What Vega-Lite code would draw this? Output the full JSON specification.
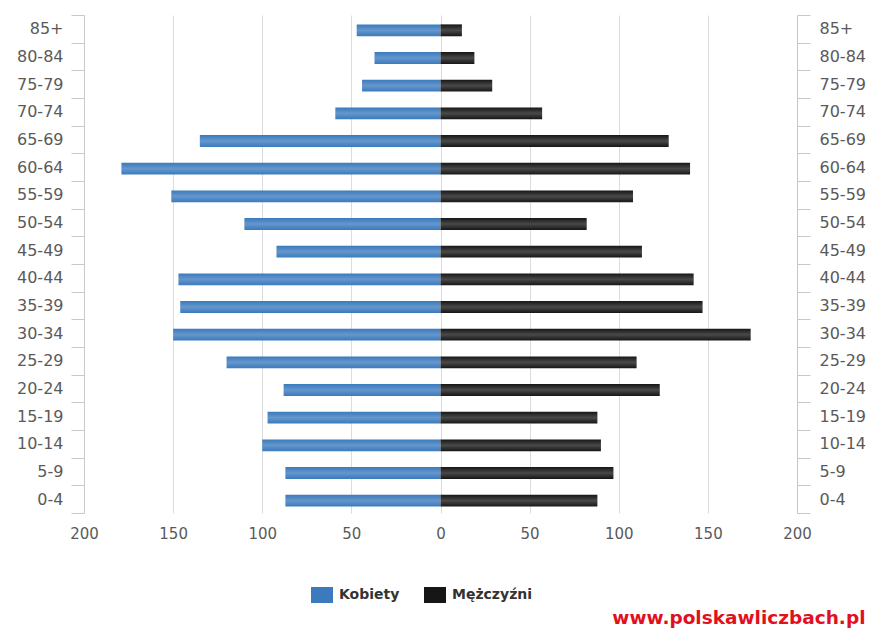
{
  "$schema": "https://vega.github.io/schema/vega-lite/v6.json",
  "width": 713,
  "height": 498,
  "autosize": "none",
  "padding": {"left": 84, "top": 15, "right": 72, "bottom": 117},
  "background": "white",
  "config": {"view": {"stroke": null}, "font": "DejaVu Sans"},
  "title": {
    "text": "www.polskawliczbach.pl",
    "orient": "bottom",
    "anchor": "end",
    "frame": "bounds",
    "color": "#e2101e",
    "font": "DejaVu Sans",
    "fontWeight": "bold",
    "fontSize": 18.5,
    "offset": 6
  },
  "data": {
    "values": [
      {"age": "85+", "sex": "Kobiety", "value": -47},
      {"age": "80-84", "sex": "Kobiety", "value": -37},
      {"age": "75-79", "sex": "Kobiety", "value": -44},
      {"age": "70-74", "sex": "Kobiety", "value": -59},
      {"age": "65-69", "sex": "Kobiety", "value": -135},
      {"age": "60-64", "sex": "Kobiety", "value": -179},
      {"age": "55-59", "sex": "Kobiety", "value": -151},
      {"age": "50-54", "sex": "Kobiety", "value": -110},
      {"age": "45-49", "sex": "Kobiety", "value": -92},
      {"age": "40-44", "sex": "Kobiety", "value": -147},
      {"age": "35-39", "sex": "Kobiety", "value": -146},
      {"age": "30-34", "sex": "Kobiety", "value": -150},
      {"age": "25-29", "sex": "Kobiety", "value": -120},
      {"age": "20-24", "sex": "Kobiety", "value": -88},
      {"age": "15-19", "sex": "Kobiety", "value": -97},
      {"age": "10-14", "sex": "Kobiety", "value": -100},
      {"age": "5-9", "sex": "Kobiety", "value": -87},
      {"age": "0-4", "sex": "Kobiety", "value": -87},
      {"age": "85+", "sex": "Mężczyźni", "value": 12},
      {"age": "80-84", "sex": "Mężczyźni", "value": 19},
      {"age": "75-79", "sex": "Mężczyźni", "value": 29},
      {"age": "70-74", "sex": "Mężczyźni", "value": 57},
      {"age": "65-69", "sex": "Mężczyźni", "value": 128},
      {"age": "60-64", "sex": "Mężczyźni", "value": 140},
      {"age": "55-59", "sex": "Mężczyźni", "value": 108},
      {"age": "50-54", "sex": "Mężczyźni", "value": 82},
      {"age": "45-49", "sex": "Mężczyźni", "value": 113},
      {"age": "40-44", "sex": "Mężczyźni", "value": 142},
      {"age": "35-39", "sex": "Mężczyźni", "value": 147},
      {"age": "30-34", "sex": "Mężczyźni", "value": 174},
      {"age": "25-29", "sex": "Mężczyźni", "value": 110},
      {"age": "20-24", "sex": "Mężczyźni", "value": 123},
      {"age": "15-19", "sex": "Mężczyźni", "value": 88},
      {"age": "10-14", "sex": "Mężczyźni", "value": 90},
      {"age": "5-9", "sex": "Mężczyźni", "value": 97},
      {"age": "0-4", "sex": "Mężczyźni", "value": 88}
    ]
  },
  "resolve": {"axis": {"y": "independent"}},
  "layer": [
    {
      "mark": {"type": "bar", "height": {"band": 0.43}, "yOffset": 1.5},
      "encoding": {
        "y": {
          "field": "age",
          "type": "ordinal",
          "sort": ["85+", "80-84", "75-79", "70-74", "65-69", "60-64", "55-59", "50-54", "45-49", "40-44", "35-39", "30-34", "25-29", "20-24", "15-19", "10-14", "5-9", "0-4"],
          "scale": {"paddingInner": 0, "paddingOuter": 0},
          "axis": {
            "orient": "left",
            "title": null,
            "grid": false,
            "domainColor": "#c8c8c8",
            "tickColor": "#c8c8c8",
            "tickSize": 13,
            "tickBand": "extent",
            "labelFont": "DejaVu Sans",
            "labelFontSize": 16,
            "labelColor": "#5a5a5a",
            "labelPadding": 8
          }
        },
        "x": {
          "field": "value",
          "type": "quantitative",
          "scale": {"domain": [-200, 200], "nice": false},
          "axis": {
            "values": [-200, -150, -100, -50, 0, 50, 100, 150, 200],
            "labelExpr": "abs(datum.value)",
            "labelFlush": false,
            "labelOverlap": false,
            "title": null,
            "domain": false,
            "ticks": false,
            "grid": true,
            "gridColor": "#dcdcdc",
            "labelFont": "DejaVu Sans",
            "labelFontSize": 15,
            "labelColor": "#5a5a5a",
            "labelPadding": 13
          }
        },
        "color": {
          "field": "sex",
          "type": "nominal",
          "scale": {"domain": ["Kobiety", "Mężczyźni"], "range": ["#3a7abd", "#161616"]},
          "legend": {
            "title": null,
            "orient": "none",
            "direction": "horizontal",
            "legendX": 230,
            "legendY": 572,
            "padding": 0,
            "symbolType": "M-1.375,-1H1.375V1H-1.375Z",
            "symbolSize": 256,
            "symbolStrokeWidth": 0,
            "symbolOpacity": 1,
            "labelOffset": 9,
            "columnPadding": 24,
            "labelFont": "DejaVu Sans",
            "labelFontSize": 14,
            "labelFontWeight": "bold",
            "labelColor": "#333333"
          }
        }
      }
    },
    {
      "mark": {
        "type": "bar",
        "height": {"band": 0.43},
        "yOffset": 1.5,
        "fill": {
          "gradient": "linear",
          "x1": 0, "y1": 0, "x2": 0, "y2": 1,
          "stops": [
            {"offset": 0, "color": "rgba(255,255,255,0)"},
            {"offset": 0.5, "color": "rgba(255,255,255,0.22)"},
            {"offset": 1, "color": "rgba(255,255,255,0)"}
          ]
        }
      },
      "encoding": {
        "y": {
          "field": "age",
          "type": "ordinal",
          "sort": ["85+", "80-84", "75-79", "70-74", "65-69", "60-64", "55-59", "50-54", "45-49", "40-44", "35-39", "30-34", "25-29", "20-24", "15-19", "10-14", "5-9", "0-4"],
          "axis": {
            "orient": "right",
            "title": null,
            "grid": false,
            "domainColor": "#c8c8c8",
            "tickColor": "#c8c8c8",
            "tickSize": 13,
            "tickBand": "extent",
            "labelFont": "DejaVu Sans",
            "labelFontSize": 16,
            "labelColor": "#5a5a5a",
            "labelPadding": 9
          }
        },
        "x": {
          "field": "value",
          "type": "quantitative",
          "axis": {
            "values": [-200, -150, -100, -50, 0, 50, 100, 150, 200],
            "labelExpr": "abs(datum.value)",
            "labelFlush": false,
            "labelOverlap": false,
            "title": null,
            "domain": false,
            "ticks": false,
            "grid": true,
            "gridColor": "#dcdcdc",
            "labelFont": "DejaVu Sans",
            "labelFontSize": 15,
            "labelColor": "#5a5a5a",
            "labelPadding": 13
          }
        }
      }
    }
  ]
}
